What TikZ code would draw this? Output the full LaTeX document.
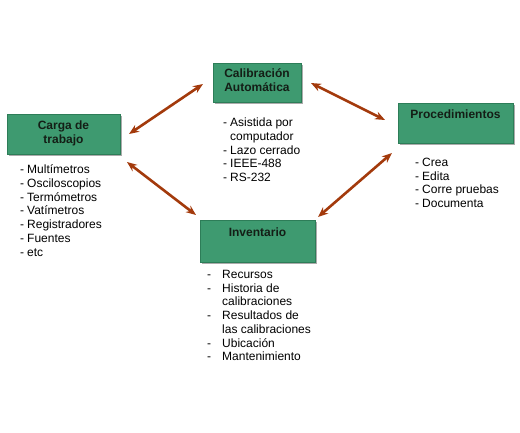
\documentclass[tikz,border=0pt]{standalone}
\usepackage{fontspec}
\setmainfont{Liberation Sans}
\usetikzlibrary{arrows.meta,shadows}
\definecolor{boxgreen}{RGB}{62,154,112}
\definecolor{boxedge}{RGB}{45,125,88}
\definecolor{arrowc}{RGB}{163,58,12}
\definecolor{titlec}{RGB}{20,30,22}
\newcommand\itm[1]{\makebox[7pt][l]{-}#1}
\newcommand\itmw[1]{\makebox[15pt][l]{-}#1}
\tikzset{
  box/.style={draw=boxedge, line width=0.6pt, fill=boxgreen, minimum height=40pt, inner sep=0pt,
    drop shadow={shadow xshift=1.6pt, shadow yshift=-1.6pt, fill=black!55, opacity=0.6}},
  title/.style={anchor=north, inner sep=0pt, align=center, text=titlec,
    font=\fontsize{12}{14}\selectfont\bfseries},
  list/.style={anchor=north west, inner sep=0pt, align=left,
    font=\fontsize{12}{13.75}\selectfont},
  arr/.style={draw=arrowc, line width=2.6pt,
    {Stealth[length=10pt,width=8pt]}-{Stealth[length=10pt,width=8pt]}}
}
\begin{document}
\begin{tikzpicture}[x=1pt,y=-1pt]
\useasboundingbox (0,0) rectangle (520,432);
% boxes
\node[box, minimum width=113pt] (carga) at (63.5,134) {};
\node[box, minimum width=88pt, minimum height=39pt] (calib) at (257,82.5) {};
\node[box, minimum width=115pt] (proc) at (455.5,123) {};
\node[box, minimum width=115pt, minimum height=42pt] (inv) at (257.5,241) {};
% titles
\node[title] (cargaT) at ([yshift=-6.5pt]carga.north) {Carga de\\trabajo};
\node[title] (calibT) at ([yshift=-5.5pt]calib.north) {Calibración\\Automática};
\node[title] (procT) at ([yshift=-7pt]proc.north) {Procedimientos};
\node[title] (invT) at ([yshift=-7.5pt]inv.north) {Inventario};
% lists
\node[list] (cargaL) at (20,164.5) {\itm{Multímetros}\\\itm{Osciloscopios}\\\itm{Termómetros}\\\itm{Vatímetros}\\\itm{Registradores}\\\itm{Fuentes}\\\itm{etc}};
\node[list] (calibL) at (223,117.8) {\itm{Asistida por}\\\hspace*{7pt}computador\\\itm{Lazo cerrado}\\\itm{IEEE-488}\\\itm{RS-232}};
\node[list] (procL) at (415,157.7) {\itm{Crea}\\\itm{Edita}\\\itm{Corre pruebas}\\\itm{Documenta}};
\node[list] (invL) at (207,269.9) {\itmw{Recursos}\\\itmw{Historia de}\\\hspace*{15pt}calibraciones\\\itmw{Resultados de}\\\hspace*{15pt}las calibraciones\\\itmw{Ubicación}\\\itmw{Mantenimiento}};
% arrow ends
\coordinate (a1s) at (129,134);
\coordinate (a1e) at (203,84);
\coordinate (a2s) at (311,83);
\coordinate (a2e) at (385,120);
\coordinate (a3s) at (127,162);
\coordinate (a3e) at (196,215);
\coordinate (a4s) at (318,217);
\coordinate (a4e) at (392,153);
\draw[arr] (a1s) -- (a1e);
\draw[arr] (a2s) -- (a2e);
\draw[arr] (a3s) -- (a3e);
\draw[arr] (a4s) -- (a4e);
\end{tikzpicture}
\end{document}
